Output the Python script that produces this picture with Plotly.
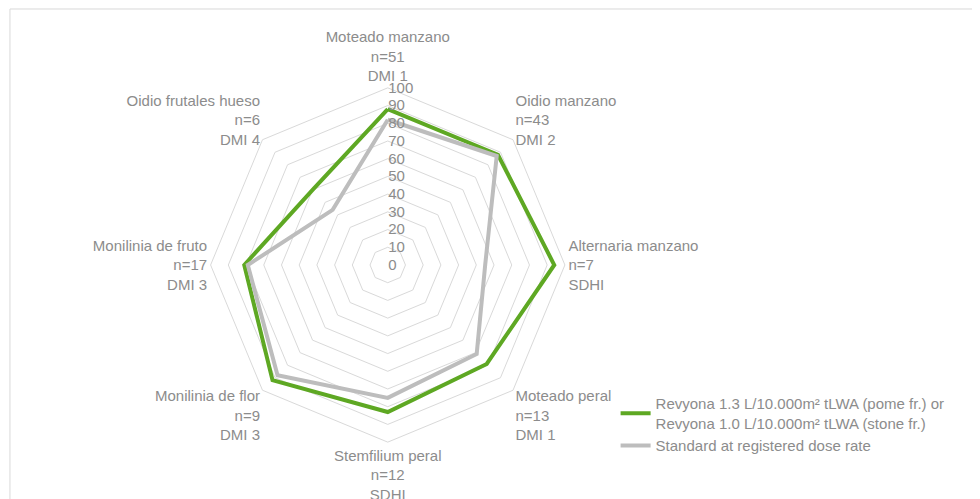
import plotly.graph_objects as go

categories = ["Moteado manzano<br>n=51<br>DMI 1", "Oidio manzano<br>n=43<br>DMI 2",
              "Alternaria manzano<br>n=7<br>SDHI", "Moteado peral<br>n=13<br>DMI 1",
              "Stemfilium peral<br>n=12<br>SDHI", "Monilinia de flor<br>n=9<br>DMI 3",
              "Monilinia de fruto<br>n=17<br>DMI 3", "Oidio frutales hueso<br>n=6<br>DMI 4"]
revyona = [88, 88, 94, 79, 83, 92, 81, 60]
standard = [82, 87, 55, 71, 75, 88, 79, 44]
names = ["Revyona 1.3 L/10.000m² tLWA (pome fr.) or<br>Revyona 1.0 L/10.000m² tLWA (stone fr.)",
         "Standard at registered dose rate"]

fig = go.Figure()
fig.add_trace(go.Scatterpolar(r=revyona + revyona[:1], theta=categories + categories[:1],
                              mode="lines", line=dict(color="#5ea823", width=4), name=names[0]))
fig.add_trace(go.Scatterpolar(r=standard + standard[:1], theta=categories + categories[:1],
                              mode="lines", line=dict(color="#bdbdbd", width=4), name=names[1]))
fig.update_layout(
    width=980, height=499, margin=dict(l=0, r=0, t=0, b=0),
    paper_bgcolor="white", plot_bgcolor="white",
    font=dict(family="Liberation Sans, Arial", size=15, color="#8c8c8c"),
    polar=dict(
        domain=dict(x=[0.2, 0.575], y=[0.13, 0.84]),
        gridshape="linear", bgcolor="white",
        angularaxis=dict(direction="clockwise", rotation=90, showline=True, linecolor="#d9d9d9",
                         showgrid=False, ticks="", tickfont=dict(size=15, color="#8c8c8c")),
        radialaxis=dict(range=[0, 100], dtick=10, angle=90, tickangle=90, showline=False,
                        gridcolor="#d9d9d9", ticks="", tickfont=dict(size=15, color="#8c8c8c"))),
    legend=dict(x=0.62, y=0.24, xanchor="left", yanchor="top", tracegroupgap=30,
                font=dict(size=15, color="#8c8c8c")),
    shapes=[dict(type="rect", xref="paper", yref="paper", x0=0.002, y0=0.002, x1=0.998, y1=0.998,
                 line=dict(color="#d9d9d9", width=1))],
)
fig.write_html("out.html")
